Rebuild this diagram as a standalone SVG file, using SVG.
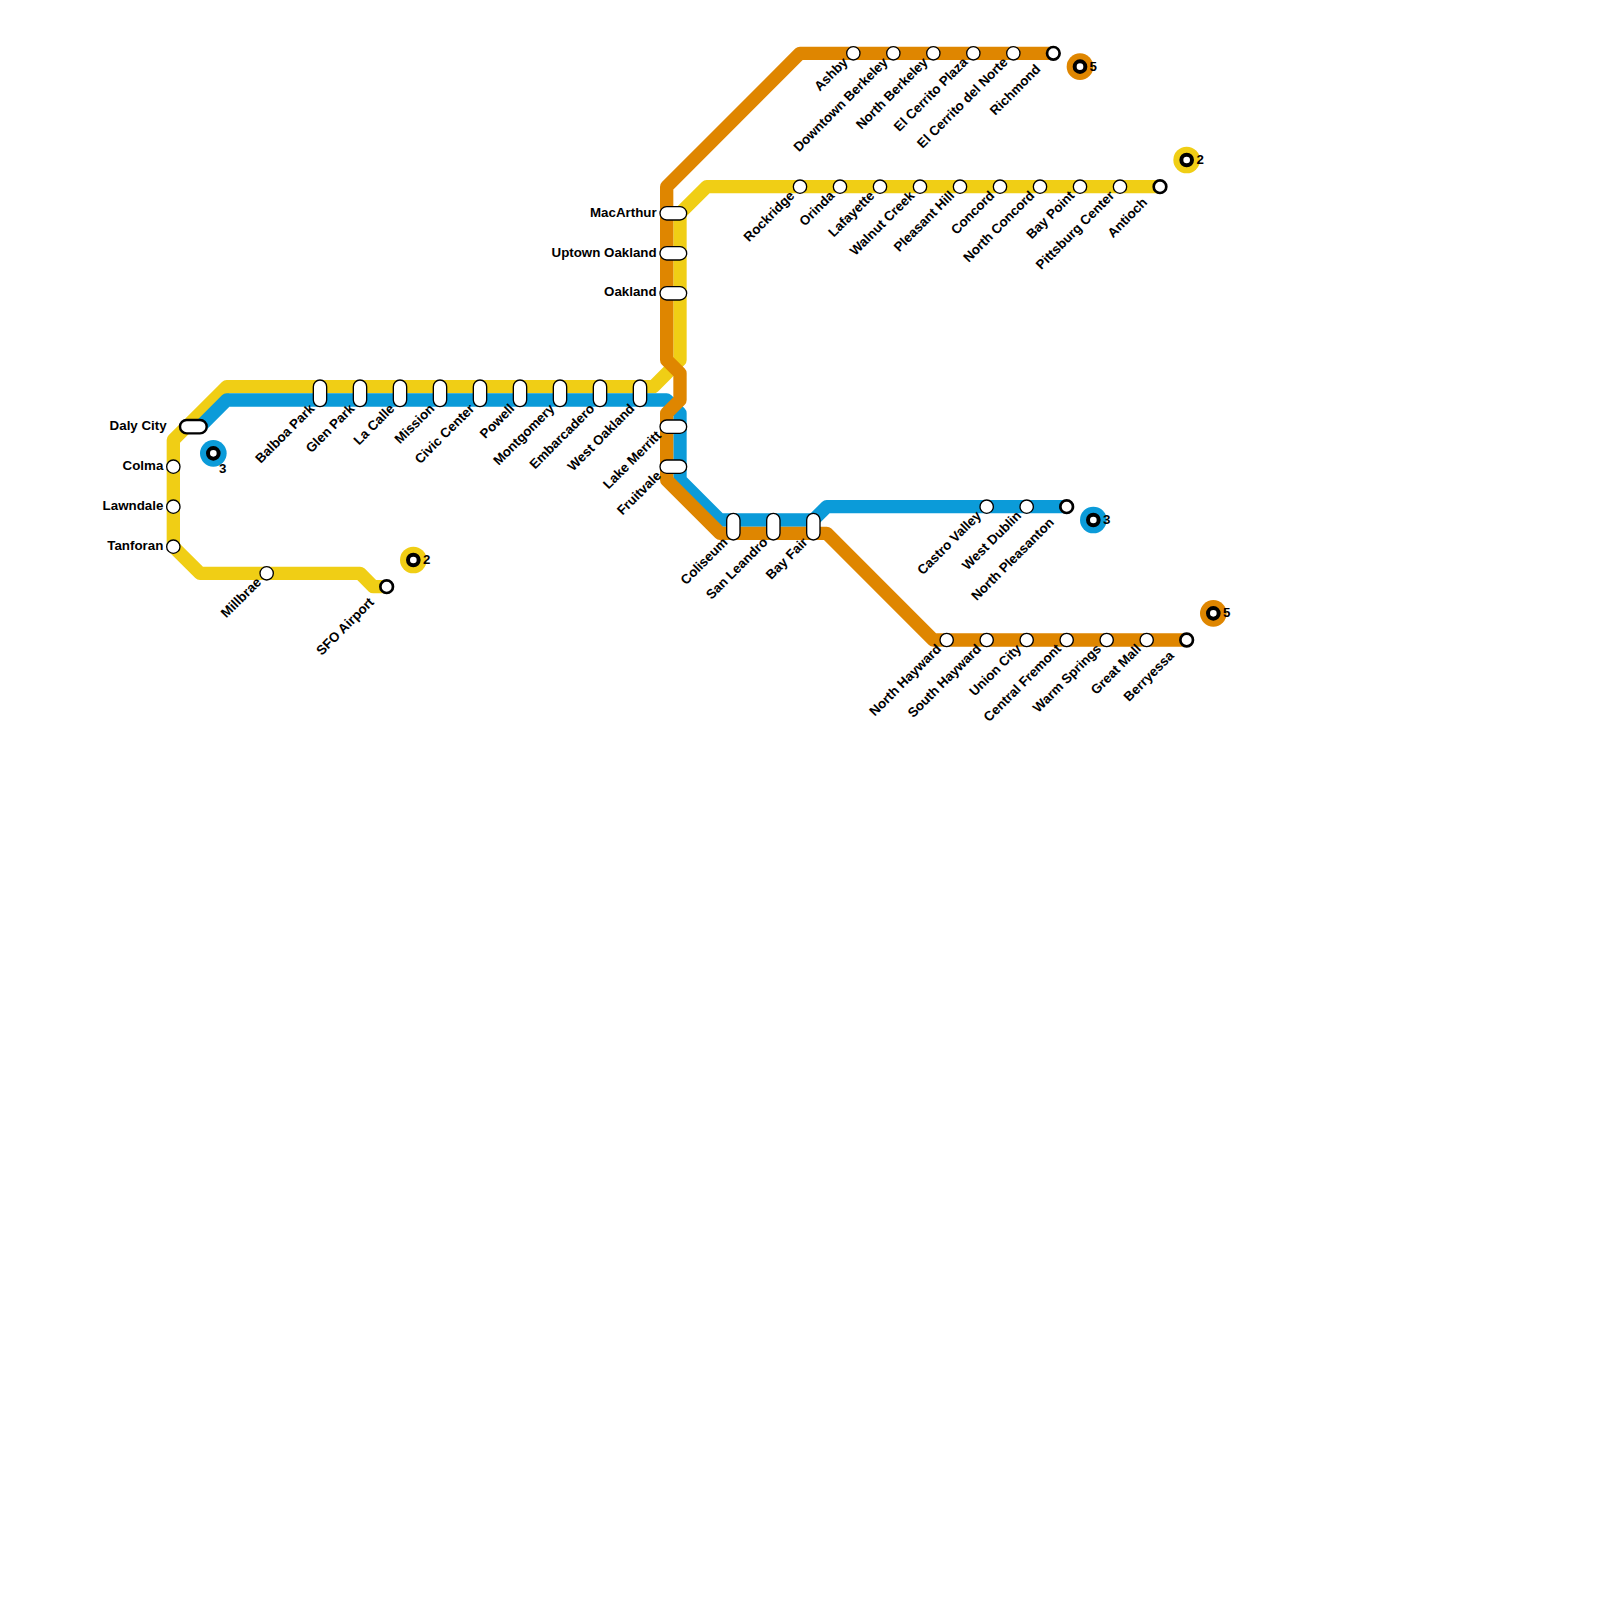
<svg xmlns="http://www.w3.org/2000/svg" width="1600" height="1600" viewBox="0 0 1600 1600">
<style>
text{font-family:"Liberation Sans",Arial,sans-serif;font-weight:700;font-size:13.33px;fill:#000}
.e{text-anchor:end}
.l{fill:none;stroke-width:13.33;stroke-linejoin:round;stroke-linecap:butt}
.s{fill:#fff;stroke:#000;stroke-width:1.33}
.t{fill:#fff;stroke:#000;stroke-width:2.67}
.r{fill:#fff;stroke:#000;stroke-width:4}
</style>
<rect width="1600" height="1600" fill="#fff"/>
<g id="connectors">
<path class="l" stroke="#f0ce15" d="M386.67 586.67H373.33L360 573.33H200L173.33 546.67V440L226.67 386.67H653.33L680 360V213.33L706.67 186.67H1160"/>
<path class="l" stroke="#0b9bd9" d="M200 426.67L226.67 400H666.67L680 413.33V480L720 520H813.33L826.67 506.67H1066.67"/>
<path class="l" stroke="#df8600" d="M1053.33 53.33H800L666.67 186.67V360L680 373.33V400L666.67 413.33V480L720 533.33H826.67L933.33 640H1186.67"/>
</g>
<g id="badge-blue-a"><circle cx="213.33" cy="453.33" r="13.33" fill="#0b9bd9"/><circle class="r" cx="213.33" cy="453.33" r="5.33"/><text x="219" y="472.5">3</text></g>
<g id="badge-yellow-a"><circle cx="413.33" cy="560" r="13.33" fill="#f0ce15"/><circle class="r" cx="413.33" cy="560" r="5.33"/><text x="423" y="564">2</text></g>
<g id="badge-orange-a"><circle cx="1080" cy="66.67" r="13.33" fill="#df8600"/><circle class="r" cx="1080" cy="66.67" r="5.33"/><text x="1089.5" y="70.5">5</text></g>
<g id="badge-yellow-b"><circle cx="1186.67" cy="160" r="13.33" fill="#f0ce15"/><circle class="r" cx="1186.67" cy="160" r="5.33"/><text x="1196.5" y="164">2</text></g>
<g id="badge-blue-b"><circle cx="1093.33" cy="520" r="13.33" fill="#0b9bd9"/><circle class="r" cx="1093.33" cy="520" r="5.33"/><text x="1103" y="524">3</text></g>
<g id="badge-orange-b"><circle cx="1213.33" cy="613.33" r="13.33" fill="#df8600"/><circle class="r" cx="1213.33" cy="613.33" r="5.33"/><text x="1223" y="617">5</text></g>

<g id="daly-city"><rect class="t" style="stroke-width:2.4" x="180" y="420" width="26.67" height="13.33" rx="6.67"/><text class="e" x="166.67" y="430">Daly City</text></g>
<g id="colma"><circle class="s" cx="173.33" cy="466.67" r="6.67"/><text class="e" x="163.33" y="470">Colma</text></g>
<g id="lawndale"><circle class="s" cx="173.33" cy="506.67" r="6.67"/><text class="e" x="163.33" y="510">Lawndale</text></g>
<g id="tanforan"><circle class="s" cx="173.33" cy="546.67" r="6.67"/><text class="e" x="163.33" y="550">Tanforan</text></g>
<g id="millbrae"><circle class="s" cx="266.67" cy="573.33" r="6.67"/><text class="e" transform="translate(261.9 583) rotate(-45)">Millbrae</text></g>
<g id="sfo-airport"><circle class="t" cx="386.67" cy="586.67" r="6.3"/><text class="e" transform="translate(374.7 603) rotate(-45)">SFO Airport</text></g>

<g id="balboa-park"><rect class="s" x="313.33" y="380" width="13.33" height="26.67" rx="6.67"/><text class="e" transform="translate(315.2 409.5) rotate(-45)">Balboa Park</text></g>
<g id="glen-park"><rect class="s" x="353.33" y="380" width="13.33" height="26.67" rx="6.67"/><text class="e" transform="translate(355.2 409.5) rotate(-45)">Glen Park</text></g>
<g id="la-calle"><rect class="s" x="393.33" y="380" width="13.33" height="26.67" rx="6.67"/><text class="e" transform="translate(395.2 409.5) rotate(-45)">La Calle</text></g>
<g id="mission"><rect class="s" x="433.33" y="380" width="13.33" height="26.67" rx="6.67"/><text class="e" transform="translate(435.2 409.5) rotate(-45)">Mission</text></g>
<g id="civic-center"><rect class="s" x="473.33" y="380" width="13.33" height="26.67" rx="6.67"/><text class="e" transform="translate(475.2 409.5) rotate(-45)">Civic Center</text></g>
<g id="powell"><rect class="s" x="513.33" y="380" width="13.33" height="26.67" rx="6.67"/><text class="e" transform="translate(515.2 409.5) rotate(-45)">Powell</text></g>
<g id="montgomery"><rect class="s" x="553.33" y="380" width="13.33" height="26.67" rx="6.67"/><text class="e" transform="translate(555.2 409.5) rotate(-45)">Montgomery</text></g>
<g id="embarcadero"><rect class="s" x="593.33" y="380" width="13.33" height="26.67" rx="6.67"/><text class="e" transform="translate(595.2 409.5) rotate(-45)">Embarcadero</text></g>
<g id="west-oakland"><rect class="s" x="633.33" y="380" width="13.33" height="26.67" rx="6.67"/><text class="e" transform="translate(635.2 409.5) rotate(-45)">West Oakland</text></g>

<g id="macarthur"><rect class="s" x="660" y="206.67" width="26.67" height="13.33" rx="6.67"/><text class="e" x="656.67" y="217">MacArthur</text></g>
<g id="uptown-oakland"><rect class="s" x="660" y="246.67" width="26.67" height="13.33" rx="6.67"/><text class="e" x="656.67" y="257">Uptown Oakland</text></g>
<g id="oakland"><rect class="s" x="660" y="286.67" width="26.67" height="13.33" rx="6.67"/><text class="e" x="656.67" y="296.4">Oakland</text></g>
<g id="lake-merritt"><rect class="s" x="660" y="420" width="26.67" height="13.33" rx="6.67"/><text class="e" transform="translate(661.9 436.4) rotate(-45)">Lake Merritt</text></g>
<g id="fruitvale"><rect class="s" x="660" y="460" width="26.67" height="13.33" rx="6.67"/><text class="e" transform="translate(661.9 476.4) rotate(-45)">Fruitvale</text></g>

<g id="coliseum"><rect class="s" x="726.67" y="513.33" width="13.33" height="26.67" rx="6.67"/><text class="e" transform="translate(728.5 543) rotate(-45)">Coliseum</text></g>
<g id="san-leandro"><rect class="s" x="766.67" y="513.33" width="13.33" height="26.67" rx="6.67"/><text class="e" transform="translate(768.5 543) rotate(-45)">San Leandro</text></g>
<g id="bay-fair"><rect class="s" x="806.67" y="513.33" width="13.33" height="26.67" rx="6.67"/><text class="e" transform="translate(808.5 543) rotate(-45)">Bay Fair</text></g>

<g id="ashby"><circle class="s" cx="853.33" cy="53.33" r="6.67"/><text class="e" transform="translate(848.5 63) rotate(-45)">Ashby</text></g>
<g id="downtown-berkeley"><circle class="s" cx="893.33" cy="53.33" r="6.67"/><text class="e" transform="translate(888.5 63) rotate(-45)">Downtown Berkeley</text></g>
<g id="north-berkeley"><circle class="s" cx="933.33" cy="53.33" r="6.67"/><text class="e" transform="translate(928.5 63) rotate(-45)">North Berkeley</text></g>
<g id="el-cerrito-plaza"><circle class="s" cx="973.33" cy="53.33" r="6.67"/><text class="e" transform="translate(968.5 63) rotate(-45)">El Cerrito Plaza</text></g>
<g id="el-cerrito-del-norte"><circle class="s" cx="1013.33" cy="53.33" r="6.67"/><text class="e" transform="translate(1008.5 63) rotate(-45)">El Cerrito del Norte</text></g>
<g id="richmond"><circle class="t" cx="1053.33" cy="53.33" r="6.3"/><text class="e" transform="translate(1041.3 70) rotate(-45)">Richmond</text></g>

<g id="rockridge"><circle class="s" cx="800" cy="186.67" r="6.67"/><text class="e" transform="translate(795.2 196.4) rotate(-45)">Rockridge</text></g>
<g id="orinda"><circle class="s" cx="840" cy="186.67" r="6.67"/><text class="e" transform="translate(835.2 196.4) rotate(-45)">Orinda</text></g>
<g id="lafayette"><circle class="s" cx="880" cy="186.67" r="6.67"/><text class="e" transform="translate(875.2 196.4) rotate(-45)">Lafayette</text></g>
<g id="walnut-creek"><circle class="s" cx="920" cy="186.67" r="6.67"/><text class="e" transform="translate(915.2 196.4) rotate(-45)">Walnut Creek</text></g>
<g id="pleasant-hill"><circle class="s" cx="960" cy="186.67" r="6.67"/><text class="e" transform="translate(955.2 196.4) rotate(-45)">Pleasant Hill</text></g>
<g id="concord"><circle class="s" cx="1000" cy="186.67" r="6.67"/><text class="e" transform="translate(995.2 196.4) rotate(-45)">Concord</text></g>
<g id="north-concord"><circle class="s" cx="1040" cy="186.67" r="6.67"/><text class="e" transform="translate(1035.2 196.4) rotate(-45)">North Concord</text></g>
<g id="bay-point"><circle class="s" cx="1080" cy="186.67" r="6.67"/><text class="e" transform="translate(1075.2 196.4) rotate(-45)">Bay Point</text></g>
<g id="pittsburg-center"><circle class="s" cx="1120" cy="186.67" r="6.67"/><text class="e" transform="translate(1115.2 196.4) rotate(-45)">Pittsburg Center</text></g>
<g id="antioch"><circle class="t" cx="1160" cy="186.67" r="6.3"/><text class="e" transform="translate(1148 203.3) rotate(-45)">Antioch</text></g>

<g id="castro-valley"><circle class="s" cx="986.67" cy="506.67" r="6.67"/><text class="e" transform="translate(981.9 516.4) rotate(-45)">Castro Valley</text></g>
<g id="west-dublin"><circle class="s" cx="1026.67" cy="506.67" r="6.67"/><text class="e" transform="translate(1021.9 516.4) rotate(-45)">West Dublin</text></g>
<g id="north-pleasanton"><circle class="t" cx="1066.67" cy="506.67" r="6.3"/><text class="e" transform="translate(1054.7 523.3) rotate(-45)">North Pleasanton</text></g>

<g id="north-hayward"><circle class="s" cx="946.67" cy="640" r="6.67"/><text class="e" transform="translate(941.9 649.7) rotate(-45)">North Hayward</text></g>
<g id="south-hayward"><circle class="s" cx="986.67" cy="640" r="6.67"/><text class="e" transform="translate(981.9 649.7) rotate(-45)">South Hayward</text></g>
<g id="union-city"><circle class="s" cx="1026.67" cy="640" r="6.67"/><text class="e" transform="translate(1021.9 649.7) rotate(-45)">Union City</text></g>
<g id="central-fremont"><circle class="s" cx="1066.67" cy="640" r="6.67"/><text class="e" transform="translate(1061.9 649.7) rotate(-45)">Central Fremont</text></g>
<g id="warm-springs"><circle class="s" cx="1106.67" cy="640" r="6.67"/><text class="e" transform="translate(1101.9 649.7) rotate(-45)">Warm Springs</text></g>
<g id="great-mall"><circle class="s" cx="1146.67" cy="640" r="6.67"/><text class="e" transform="translate(1141.9 649.7) rotate(-45)">Great Mall</text></g>
<g id="berryessa"><circle class="t" cx="1186.67" cy="640" r="6.3"/><text class="e" transform="translate(1174.7 656.6) rotate(-45)">Berryessa</text></g>
</svg>
